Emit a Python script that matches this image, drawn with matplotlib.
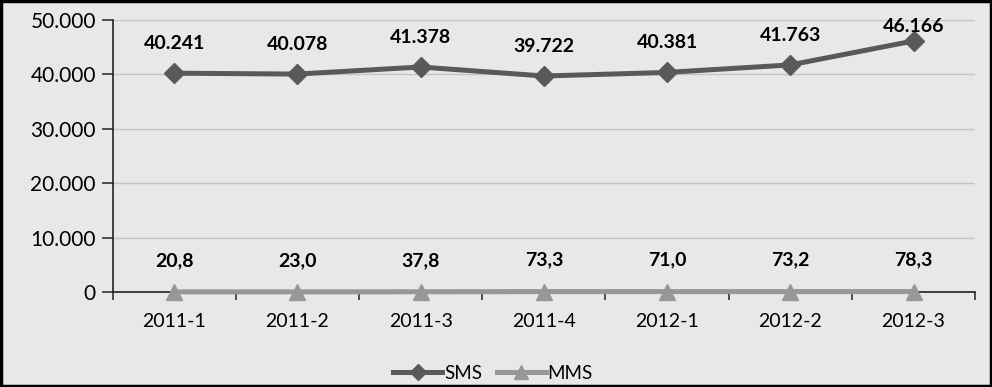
import matplotlib.pyplot as plt
import numpy as np
from matplotlib.ticker import FuncFormatter

plt.rcParams['font.family'] = ['Lato', 'DejaVu Sans']

quarters = ['2011-1', '2011-2', '2011-3', '2011-4', '2012-1', '2012-2', '2012-3']
sms = [40241, 40078, 41378, 39722, 40381, 41763, 46166]
mms = [20.8, 23.0, 37.8, 73.3, 71.0, 73.2, 78.3]

bg = '#e8e8e8'
sms_col = '#595959'
mms_col = '#979797'

fig = plt.figure(figsize=(9.92, 3.87), dpi=100, facecolor=bg)
ax = fig.add_axes([0.1135, 0.2455, 0.8695, 0.7025], facecolor=bg)

x = np.arange(len(quarters))
ax.plot(x, sms, '-', color=sms_col, lw=3.6, marker='D', ms=10, label='SMS',
        zorder=3, clip_on=False)
ax.plot(x, mms, '-', color=mms_col, lw=3.6, marker='^', ms=12, label='MMS',
        zorder=3, clip_on=False)

ax.set_xlim(-0.5, len(quarters) - 0.5)
ax.set_ylim(0, 50000)

# thousands separator as a dot
def fmt_dot(v):
    return '{:,.0f}'.format(v).replace(',', '.')

# labels sit above the points, pushed down if they would leave the plot area
px2pt = 72 / fig.dpi
top_px = ax.transData.transform((0, 50000))[1]
for xi, v in zip(x, sms):
    py = ax.transData.transform((xi, v))[1]
    off = min(24, top_px - py - 12)
    ax.annotate(fmt_dot(v), (xi, v), xytext=(0, off * px2pt), textcoords='offset points',
                ha='center', va='baseline', fontsize=14, fontweight='bold')
for xi, v in zip(x, mms):
    ax.annotate('{:.1f}'.format(v).replace('.', ','), (xi, v), xytext=(0, 26 * px2pt),
                textcoords='offset points', ha='center', va='baseline',
                fontsize=14, fontweight='bold')

ax.set_yticks(np.arange(0, 50001, 10000))
ax.yaxis.set_major_formatter(FuncFormatter(lambda v, p: fmt_dot(v)))
ax.set_xticks(x)
ax.set_xticklabels(quarters)
ax.set_xticks(np.arange(-0.5, len(quarters)), minor=True)
ax.tick_params(axis='x', which='major', length=0, pad=15, labelsize=14)
ax.tick_params(axis='x', which='minor', length=6, width=1.2, color='#333333')
ax.tick_params(axis='y', length=8, width=1.2, color='#333333', labelsize=15, pad=4)
ax.yaxis.grid(True, color='#c4c4c4', lw=1)
ax.set_axisbelow(True)

for s in ['top', 'right']:
    ax.spines[s].set_visible(False)
for s in ['left', 'bottom']:
    ax.spines[s].set_color('#222222')
    ax.spines[s].set_linewidth(1.2)

fig.legend(loc='center', bbox_to_anchor=(0.497, 0.035), ncol=2, frameon=False,
           fontsize=13.5, handlelength=2.6, columnspacing=0.8, handletextpad=0.1,
           markerscale=0.8)

# outer frame around the whole figure
fig.patches.append(plt.Rectangle((0.0015, 0.003), 0.997, 0.994, transform=fig.transFigure,
                                 fill=False, edgecolor='black', lw=2.5))

fig.savefig('out.png', dpi=100, facecolor=bg)
